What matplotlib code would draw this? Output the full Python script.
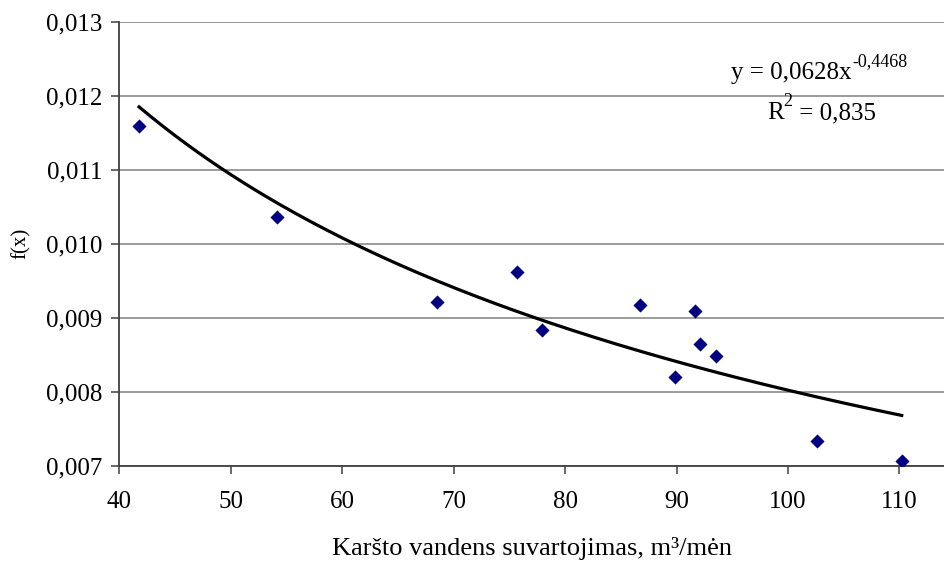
import numpy as np
import matplotlib
matplotlib.use('Agg')
import matplotlib.pyplot as plt

plt.rcParams['font.family'] = ['Liberation Serif', 'DejaVu Serif']

# hot water consumption (m3/month) vs f(x)
consumption = [41.8, 54.2, 68.5, 75.7, 77.9, 86.7, 89.9, 91.7, 92.1, 93.5, 102.6, 110.2]
fx = [0.01159, 0.01036, 0.00922, 0.00962, 0.00884, 0.00917, 0.00820,
      0.00909, 0.00865, 0.00849, 0.00734, 0.00707]

# power trendline y = a * x^b
coef_a = 0.0628
coef_b = -0.4468
r_squared = 0.835

x_ticks = [40, 50, 60, 70, 80, 90, 100, 110]
y_ticks = [0.007, 0.008, 0.009, 0.010, 0.011, 0.012, 0.013]


def comma(v, digits):
    return f'{v:.{digits}f}'.replace('.', ',')


fig = plt.figure(figsize=(9.44, 5.62), dpi=100)
ax = fig.add_axes([0.1261, 0.1708, 0.874, 0.7909])

ax.scatter(consumption, fx, marker='D', s=52, color='#000080', zorder=3, linewidths=0)

xs = np.linspace(min(consumption), max(consumption), 200)
ax.plot(xs, coef_a * xs ** coef_b, color='black', lw=2.3, zorder=4)

ax.set_xlim(40, 114)
ax.set_ylim(0.007, 0.013)
ax.set_xticks(x_ticks)
ax.set_yticks(y_ticks)
ax.set_yticklabels([comma(v, 3) for v in y_ticks])
ax.grid(axis='y', color='#808080', lw=1.1)
ax.set_axisbelow(True)

for side in ['top', 'right']:
    ax.spines[side].set_visible(False)
for side in ['left', 'bottom']:
    ax.spines[side].set_color('#404040')
    ax.spines[side].set_linewidth(1.3)
ax.tick_params(direction='out', length=6, width=1.1, color='#404040', labelsize=18)
ax.tick_params(axis='x', pad=12)
ax.tick_params(axis='y', pad=6)

ax.set_xlabel('Karšto vandens suvartojimas, m³/mėn', fontsize=19, labelpad=17)
ax.set_ylabel('f(x)', fontsize=15, labelpad=11)

# trendline equation and R² with raised exponents
eq = fig.text(731 / 944, 1 - 73 / 562, f'y = {comma(coef_a, 4)}x',
              fontsize=18, va='center', ha='left')
ax.annotate(comma(coef_b, 4), xy=(1, 0.5), xycoords=eq, xytext=(1, 11),
            textcoords='offset pixels', fontsize=13, va='center', ha='left')

r_lbl = fig.text(767 / 944, 1 - 113 / 562, 'R', fontsize=18, va='center', ha='left')
r_sup = ax.annotate('2', xy=(1, 0.5), xycoords=r_lbl, xytext=(0, 11),
                    textcoords='offset pixels', fontsize=13, va='center', ha='left')
ax.annotate(f' = {comma(r_squared, 3)}', xy=(1, 0.5), xycoords=r_sup, xytext=(0, -11),
            textcoords='offset pixels', fontsize=18, va='center', ha='left')

fig.savefig('out.png', dpi=100)
